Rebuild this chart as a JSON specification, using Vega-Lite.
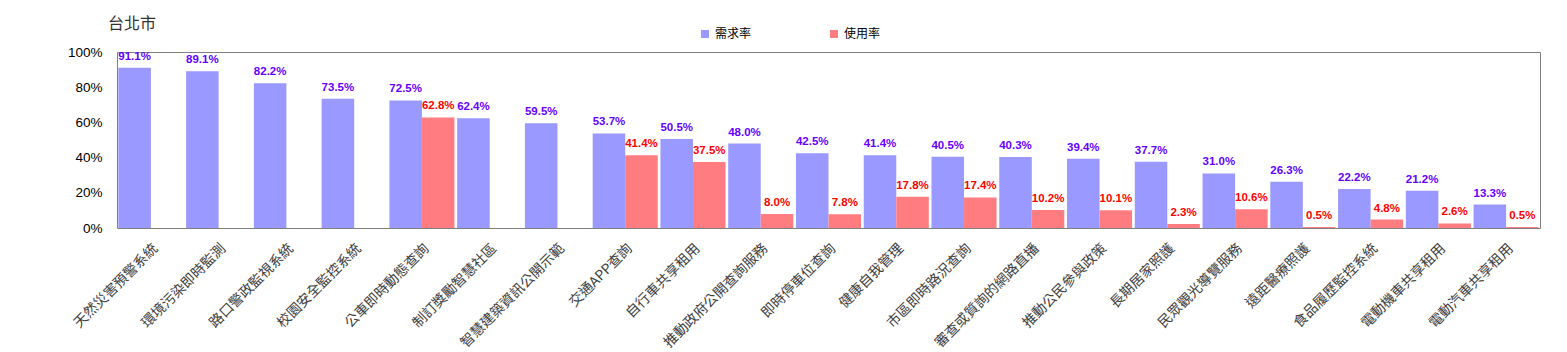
{
  "$schema": "https://vega.github.io/schema/vega-lite/v6.json",
  "width": 1423,
  "height": 176,
  "autosize": {"type": "none"},
  "padding": {"left": 117, "top": 52, "right": 27, "bottom": 124},
  "background": "#ffffff",
  "title": {
    "text": "台北市",
    "anchor": "start",
    "frame": "group",
    "dx": -9,
    "dy": 24,
    "offset": 20,
    "fontSize": 16,
    "fontWeight": "normal",
    "font": "Noto Sans CJK TC",
    "color": "#333333"
  },
  "config": {
    "view": {"stroke": "#808080", "strokeWidth": 1},
    "axis": {"grid": false, "ticks": false, "domain": false}
  },
  "data": {
    "values": [
      {"item": "天然災害預警系統", "series": "需求率", "value": 0.911},
      {"item": "環境污染即時監測", "series": "需求率", "value": 0.891},
      {"item": "路口警政監視系統", "series": "需求率", "value": 0.822},
      {"item": "校園安全監控系統", "series": "需求率", "value": 0.735},
      {"item": "公車即時動態查詢", "series": "需求率", "value": 0.725},
      {"item": "制訂獎勵智慧社區", "series": "需求率", "value": 0.624},
      {"item": "智慧建築資訊公開示範", "series": "需求率", "value": 0.595},
      {"item": "交通APP查詢", "series": "需求率", "value": 0.537},
      {"item": "自行車共享租用", "series": "需求率", "value": 0.505},
      {"item": "推動政府公開查詢服務", "series": "需求率", "value": 0.480},
      {"item": "即時停車位查詢", "series": "需求率", "value": 0.425},
      {"item": "健康自我管理", "series": "需求率", "value": 0.414},
      {"item": "市區即時路況查詢", "series": "需求率", "value": 0.405},
      {"item": "審查或質詢的網路直播", "series": "需求率", "value": 0.403},
      {"item": "推動公民參與政策", "series": "需求率", "value": 0.394},
      {"item": "長期居家照護", "series": "需求率", "value": 0.377},
      {"item": "民眾觀光導覽服務", "series": "需求率", "value": 0.310},
      {"item": "遠距醫療照護", "series": "需求率", "value": 0.263},
      {"item": "食品履歷監控系統", "series": "需求率", "value": 0.222},
      {"item": "電動機車共享租用", "series": "需求率", "value": 0.212},
      {"item": "電動汽車共享租用", "series": "需求率", "value": 0.133},
      {"item": "公車即時動態查詢", "series": "使用率", "value": 0.628},
      {"item": "交通APP查詢", "series": "使用率", "value": 0.414},
      {"item": "自行車共享租用", "series": "使用率", "value": 0.375},
      {"item": "推動政府公開查詢服務", "series": "使用率", "value": 0.080},
      {"item": "即時停車位查詢", "series": "使用率", "value": 0.078},
      {"item": "健康自我管理", "series": "使用率", "value": 0.178},
      {"item": "市區即時路況查詢", "series": "使用率", "value": 0.174},
      {"item": "審查或質詢的網路直播", "series": "使用率", "value": 0.102},
      {"item": "推動公民參與政策", "series": "使用率", "value": 0.101},
      {"item": "長期居家照護", "series": "使用率", "value": 0.023},
      {"item": "民眾觀光導覽服務", "series": "使用率", "value": 0.106},
      {"item": "遠距醫療照護", "series": "使用率", "value": 0.005},
      {"item": "食品履歷監控系統", "series": "使用率", "value": 0.048},
      {"item": "電動機車共享租用", "series": "使用率", "value": 0.026},
      {"item": "電動汽車共享租用", "series": "使用率", "value": 0.005}
    ]
  },
  "encoding": {
    "x": {
      "field": "item",
      "type": "nominal",
      "sort": null,
      "scale": {"paddingInner": 0.04, "paddingOuter": 0.02},
      "axis": {
        "title": null,
        "labelAngle": -45,
        "labelFont": "Noto Sans CJK TC",
        "labelFontSize": 14,
        "labelColor": "#404040",
        "labelPadding": 13,
        "labelLimit": 300
      }
    },
    "xOffset": {
      "field": "series",
      "type": "nominal",
      "scale": {"domain": ["需求率", "使用率"], "paddingInner": 0, "paddingOuter": 0}
    },
    "y": {
      "field": "value",
      "type": "quantitative",
      "scale": {"domain": [0, 1], "nice": false},
      "axis": {
        "title": null,
        "values": [0, 0.2, 0.4, 0.6, 0.8, 1],
        "format": ".0%",
        "labelFont": "Liberation Sans",
        "labelFontSize": 13.5,
        "labelColor": "#000000",
        "labelPadding": 15
      }
    }
  },
  "layer": [
    {
      "mark": {"type": "bar"},
      "encoding": {
        "color": {
          "field": "series",
          "type": "nominal",
          "scale": {"domain": ["需求率", "使用率"], "range": ["#9999ff", "#ff7c80"]},
          "legend": {
            "title": null,
            "orient": "none",
            "legendX": 582,
            "legendY": -24,
            "direction": "horizontal",
            "symbolType": "square",
            "symbolSize": 64,
            "symbolStrokeWidth": 0,
            "labelFont": "Noto Sans CJK TC",
            "labelFontSize": 12,
            "labelColor": "#000000",
            "labelOffset": 4,
            "columnPadding": 76,
            "padding": 0
          }
        }
      }
    },
    {
      "transform": [{"filter": "datum.series === '需求率'"}],
      "mark": {"type": "text", "baseline": "alphabetic", "dy": -8, "font": "Liberation Sans", "fontSize": 11.5, "fontWeight": "bold", "color": "#6600ff"},
      "encoding": {"text": {"field": "value", "type": "quantitative", "format": ".1%"}}
    },
    {
      "transform": [{"filter": "datum.series === '使用率'"}],
      "mark": {"type": "text", "baseline": "alphabetic", "dy": -8, "font": "Liberation Sans", "fontSize": 11.5, "fontWeight": "bold", "color": "#ff0000"},
      "encoding": {"text": {"field": "value", "type": "quantitative", "format": ".1%"}}
    }
  ]
}
